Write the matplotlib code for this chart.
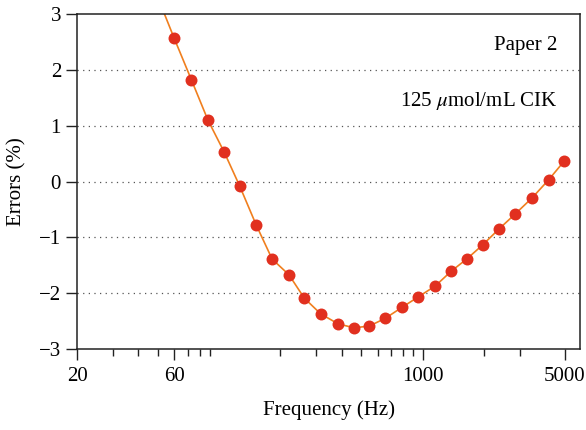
import matplotlib
matplotlib.use("Agg")
import matplotlib.pyplot as plt
from matplotlib.ticker import FixedLocator, NullFormatter

# measured points (Hz, %)
freq = [60, 73, 88, 106, 126, 152, 182, 220, 262, 315, 384, 459, 546, 655,
        794, 948, 1154, 1377, 1656, 1978, 2371, 2851, 3455, 4157, 4943]
errors = [2.57, 1.82, 1.10, 0.52, -0.08, -0.78, -1.39, -1.67, -2.09, -2.37,
          -2.55, -2.62, -2.59, -2.45, -2.25, -2.07, -1.87, -1.61, -1.38, -1.13,
          -0.85, -0.58, -0.29, 0.03, 0.36]

# the fitted line runs past the first point up to the top edge
line_freq = [50] + freq
line_errors = [3.29] + errors

major_ticks = [20, 60, 1000, 5000]
minor_ticks = [30, 40, 50, 70, 80, 90, 200, 300, 400, 500, 600, 700, 800, 900,
               2000, 3000]
y_ticks = [-3, -2, -1, 0, 1, 2, 3]
grid_levels = [-2, -1, 0, 1, 2]

plt.rcParams['font.family'] = ['Liberation Serif', 'DejaVu Serif']
plt.rcParams['mathtext.fontset'] = 'stix'

fig = plt.figure(figsize=(5.86, 4.30), dpi=100)
ax = fig.add_axes([0.1314, 0.1884, 0.8584, 0.779])

for lvl in grid_levels:
  ax.axhline(lvl, color='#555555', lw=0.9, ls=(0, (1, 3.5)), zorder=1)

ax.plot(line_freq, line_errors, color='#f07f1e', lw=1.2, zorder=2)
ax.plot(freq, errors, 'o', color='#e1301f', markersize=8.6, markeredgewidth=0, zorder=3)

ax.set_xscale('log')
ax.set_xlim(20, 5930)
ax.set_ylim(-3, 3)
ax.xaxis.set_major_locator(FixedLocator(major_ticks))
ax.xaxis.set_minor_locator(FixedLocator(minor_ticks))
ax.xaxis.set_minor_formatter(NullFormatter())
ax.set_xticklabels([str(t) for t in major_ticks])
ax.set_yticks(y_ticks)
ax.set_yticklabels([str(t).replace('-', '\u2212') for t in y_ticks])

ax.tick_params(which='major', length=8, width=1, labelsize=15, direction='out', color='#222222')
ax.tick_params(which='minor', length=5, width=1, direction='out', color='#222222')
ax.tick_params(axis='x', which='major', pad=5)
for sp in ax.spines.values():
  sp.set_linewidth(1.1)
  sp.set_color('#222222')

ax.set_xlabel('Frequency (Hz)', fontsize=15, labelpad=10)
ax.set_ylabel('Errors (%)', fontsize=15, labelpad=9)

ax.text(0.955, 0.907, 'Paper 2', transform=ax.transAxes, ha='right', va='center', fontsize=15)
ax.text(0.955, 0.74, r'125 $\mathit{\mu}$mol/mL CIK', transform=ax.transAxes,
        ha='right', va='center', fontsize=15)

fig.savefig('out.png', dpi=100)
